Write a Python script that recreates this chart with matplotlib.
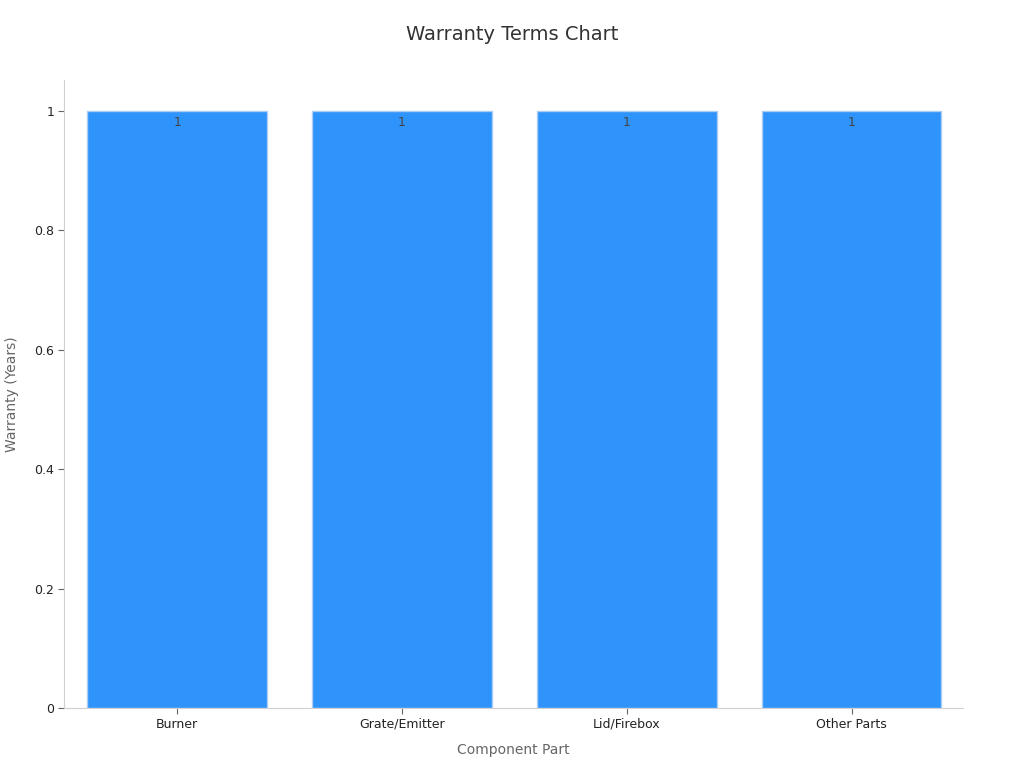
import matplotlib
matplotlib.use("Agg")
import matplotlib.pyplot as plt

# chart data
components = ["Burner", "Grate/Emitter", "Lid/Firebox", "Other Parts"]
warranty_years = [1, 1, 1, 1]

fig = plt.figure(figsize=(10.24, 7.68), dpi=100)
ax = fig.add_axes([0.0625, 0.078, 0.878, 0.818])

bars = ax.bar(range(len(components)), warranty_years, width=0.8,
              color="#2E93FA", edgecolor="#a9cdf5", linewidth=1)

for b, v in zip(bars, warranty_years):
    ax.text(b.get_x() + b.get_width() / 2, v - 0.008, f"{v}",
            ha="center", va="top", fontsize=9, color="#444444")

ax.set_xticks(range(len(components)))
ax.set_xticklabels(components, fontsize=9, color="#222222")
ax.set_xlim(-0.504, 3.496)
ax.set_ylim(0, 1.052)
ax.set_yticks([0, 0.2, 0.4, 0.6, 0.8, 1])
ax.set_yticklabels(["0", "0.2", "0.4", "0.6", "0.8", "1"], fontsize=9, color="#222222")

for side in ["top", "right"]:
    ax.spines[side].set_visible(False)
for side in ["left", "bottom"]:
    ax.spines[side].set_color("#d0d0d0")
ax.tick_params(colors="#666666", length=4, pad=3)
ax.tick_params(axis="both", labelcolor="#222222")

ax.set_xlabel("Component Part", fontsize=10, color="#666666", labelpad=9)
ax.set_ylabel("Warranty (Years)", fontsize=10, color="#666666", labelpad=11)
fig.suptitle("Warranty Terms Chart", fontsize=14, color="#333333", y=0.968)

fig.savefig("out.png", dpi=100)
